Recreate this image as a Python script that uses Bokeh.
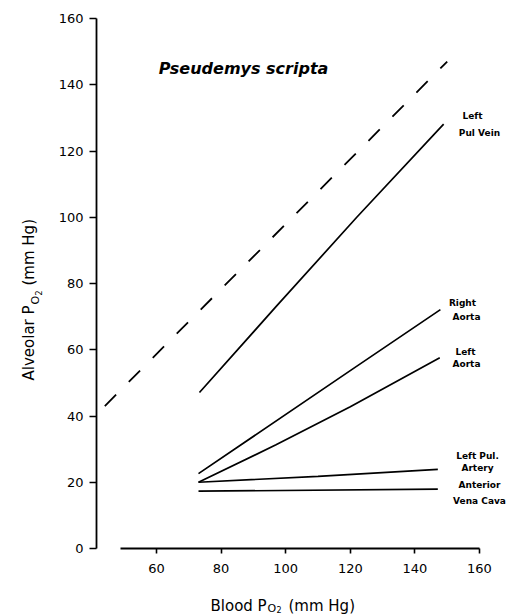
import math

from bokeh.plotting import figure
from bokeh.models import Label, Range1d, FixedTicker
from bokeh.embed import file_html
from bokeh.resources import INLINE

# Blood vs alveolar oxygen tension, Pseudemys scripta
identity_blood = [44.0, 150.0]
identity_alv = [43.0, 147.0]

pul_vein_blood = [73.3, 97.0, 122.0, 148.9]
pul_vein_alv = [47.1, 73.0, 100.0, 128.1]

right_aorta_blood = [73.0, 120.9, 147.9]
right_aorta_alv = [22.6, 54.3, 72.1]

left_aorta_blood = [73.0, 97.0, 120.0, 147.7]
left_aorta_alv = [20.0, 31.3, 42.8, 57.6]

pul_artery_blood = [73.0, 110.0, 147.1]
pul_artery_alv = [20.0, 21.8, 23.9]

vena_cava_blood = [73.0, 147.1]
vena_cava_alv = [17.3, 17.9]

x_ticks = [60, 80, 100, 120, 140, 160]
y_ticks = [0, 20, 40, 60, 80, 100, 120, 140, 160]

W, H = 508, 615
# pixel scale of the data area: x = 60 sits at 156 px, 3.23 px per unit;
# y = 0 sits at 548 px, 3.3125 px per unit
XPX, X60 = 3.23, 156.0
YPX, Y0PX = 3.3125, 548.0
X_START = 60 - X60 / XPX
X_END = 60 + (W - X60) / XPX
Y_START = -(H - Y0PX) / YPX
Y_END = Y0PX / YPX


def xd(px):
    return 60 + (px - X60) / XPX


def yd(py):
    return (Y0PX - py) / YPX


FONT = "DejaVu Sans"

p = figure(width=W, height=H, output_backend="svg", toolbar_location=None,
           x_range=Range1d(X_START, X_END), y_range=Range1d(Y_START, Y_END),
           min_border=0)
p.outline_line_color = None
p.grid.visible = False
p.background_fill_color = "white"
p.border_fill_color = "white"

for ax in (p.xaxis[0], p.yaxis[0]):
    ax.minor_tick_line_color = None
    ax.major_tick_in = 0
    ax.axis_line_width = 1.8
    ax.major_tick_line_width = 1.6
    ax.axis_line_color = "black"
    ax.major_tick_line_color = "black"
    ax.major_label_text_font = FONT
    ax.major_label_text_font_size = "13px"
    ax.major_label_text_color = "black"

p.xaxis.ticker = FixedTicker(ticks=x_ticks)
p.yaxis.ticker = FixedTicker(ticks=y_ticks)
p.xaxis.bounds = (49, 160)
p.yaxis.bounds = (0, 160)
p.xaxis.fixed_location = 0
p.yaxis.fixed_location = xd(96)
p.xaxis.major_tick_out = 5
p.yaxis.major_tick_out = 7
p.xaxis.major_label_standoff = 10
p.yaxis.major_label_standoff = 6

# curves
p.line(identity_blood, identity_alv, line_color="black", line_width=1.8, line_dash="16 18")
for xs, ys in [(pul_vein_blood, pul_vein_alv), (right_aorta_blood, right_aorta_alv),
               (left_aorta_blood, left_aorta_alv), (pul_artery_blood, pul_artery_alv),
               (vena_cava_blood, vena_cava_alv)]:
    p.line(xs, ys, line_color="black", line_width=1.7)


def label(text, px, py, size, style="normal", align="center", baseline="middle", angle=0.0):
    p.add_layout(Label(x=xd(px), y=yd(py), text=text, text_font=FONT,
                       text_font_size=f"{size}px", text_font_style=style,
                       text_align=align, text_baseline=baseline, angle=angle,
                       text_color="black"))


# title
label("Pseudemys scripta", 243, 68, 16, style="bold italic")

# curve names
for txt, px, py in [("Left", 472, 115), ("Pul Vein", 479, 132),
                    ("Right", 462, 302), ("Aorta", 466, 316),
                    ("Left", 465, 351), ("Aorta", 466, 363),
                    ("Left Pul.", 477, 455), ("Artery", 477, 467),
                    ("Anterior", 479, 484), ("Vena Cava", 479, 500)]:
    label(txt, px, py, 9, style="bold")

# x axis title with subscript
for txt, px, py, size in [("Blood P", 210, 605, 15), ("O", 267, 608, 11),
                          ("2", 276, 609, 8), ("(mm Hg)", 288, 605, 15)]:
    label(txt, px, py, size, align="left", baseline="alphabetic")

# y axis title with subscript (reads bottom to top)
r = math.pi / 2
for txt, px, py, size in [("Alveolar P", 28, 380, 15), ("O", 35, 304, 11),
                          ("2", 38, 295, 8), ("(mm Hg)", 28, 285, 15)]:
    label(txt, px, py, size, align="left", baseline="alphabetic", angle=r)

open("out.html", "w").write(file_html(p, INLINE))
